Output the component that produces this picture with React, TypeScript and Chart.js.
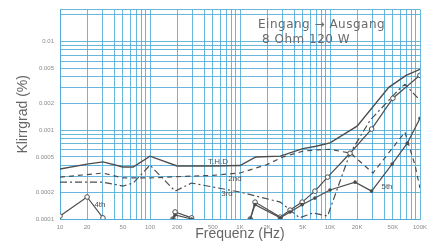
import React, { useEffect, useRef } from 'react';
import { Chart, registerables } from 'chart.js';

Chart.register(...registerables);

// ---- data (frequency in Hz, distortion in %) ----
const thdFreq = [10, 20, 30, 50, 65, 100, 200, 500, 1000, 1500, 2800, 5000, 7000, 10000, 20000, 45000, 70000, 100000];
const thdVals = [3.65e-4, 4.15e-4, 4.4e-4, 3.85e-4, 3.85e-4, 5.1e-4, 3.95e-4, 3.95e-4, 4.0e-4, 5.0e-4, 5.1e-4, 6.2e-4, 6.6e-4, 7.2e-4, 1.11e-3, 3.04e-3, 4.15e-3, 4.85e-3];

const secondFreq = [10, 30, 50, 100, 200, 500, 1000, 2000, 3000, 5000, 7000, 10000, 17000, 30000, 68000, 88000, 100000];
const secondVals = [2.96e-4, 3.29e-4, 2.9e-4, 2.9e-4, 3.0e-4, 3.1e-4, 3.3e-4, 4.1e-4, 5.0e-4, 5.8e-4, 6.0e-4, 6.1e-4, 5.5e-4, 3.29e-4, 9.5e-4, 4.04e-4, 2.23e-4];

const thirdFreq = [10, 30, 50, 65, 100, 190, 290, 1000, 2800, 4600, 6500, 9400, 16700, 28000, 60000, 68000, 100000];
const thirdVals = [2.6e-4, 2.6e-4, 2.35e-4, 2.54e-4, 4.04e-4, 2.06e-4, 2.54e-4, 2.01e-4, 1.55e-4, 1.03e-4, 1.17e-4, 1.08e-4, 5.5e-4, 1.3e-3, 2.96e-3, 3.29e-3, 2.17e-3];

const fourthFreq = [10, 20, 30, 100, 180, 190, 290, 700, 1300, 1470, 2800, 3600, 4900, 6800, 9400, 16700, 29000, 50000, 100000];
const fourthVals = [1.08e-4, 1.77e-4, 1.03e-4, null, 1.0e-4, 1.2e-4, 1.03e-4, null, 1.0e-4, 1.55e-4, 1.05e-4, 1.26e-4, 1.55e-4, 2.06e-4, 2.96e-4, 5.5e-4, 1.03e-3, 2.29e-3, 4.15e-3];

const fifthFreq = [180, 190, 290, 700, 1300, 1470, 2800, 3600, 4900, 6800, 10000, 19000, 29000, 49000, 72000, 100000];
const fifthVals = [1.0e-4, 1.11e-4, 1.0e-4, null, 1.0e-4, 1.45e-4, 1.03e-4, 1.2e-4, 1.45e-4, 1.72e-4, 2.12e-4, 2.6e-4, 2.06e-4, 4.15e-4, 7.1e-4, 1.36e-3];

// ---- tick labels ----
const xLabelValues = [10, 20, 50, 100, 200, 500, 1000, 2000, 5000, 10000, 20000, 50000, 100000];
const xLabelTexts = ['10', '20', '50', '100', '200', '500', '1K', '2K', '5K', '10K', '20K', '50K', '100K'];
const yLabelValues = [0.0001, 0.0002, 0.0005, 0.001, 0.002, 0.005, 0.01];
const yLabelTexts = ['0.0001', '0.0002', '0.0005', '0.001', '0.002', '0.005', '0.01'];

const Y_MIN = 0.0001;
const Y_MAX = 0.0228;

// ---- in-chart texts ----
const curveLabels = [
  { text: 'T.H.D', freq: 570, value: 4.37e-4 },
  { text: '2nd', freq: 880, value: 2.81e-4 },
  { text: '3rd', freq: 717, value: 1.91e-4 },
  { text: '4th', freq: 27.8, value: 1.44e-4 },
  { text: '5th', freq: 43000, value: 2.29e-4 },
];
const noteLines = [
  { text: 'Eingang → Ausgang', freq: 1585, value: 0.0155 },
  { text: '8 Ohm 120 W', freq: 1756, value: 0.0104 },
];

const toPoints = (fs: number[], vs: (number | null)[]) => fs.map((f, i) => ({ x: f, y: vs[i] }));

const xGrid: number[] = [];
[10, 100, 1000, 10000].forEach((d) => {
  for (let m = 1; m <= 9; m++) xGrid.push(d * m);
});
xGrid.push(100000);

const yGrid: number[] = [];
[0.0001, 0.001].forEach((d) => {
  for (let m = 1; m <= 9; m++) yGrid.push(d * m);
});
yGrid.push(0.01, 0.02, Y_MAX);

const findLabel = (v: number, vals: number[], texts: string[]) => {
  const i = vals.findIndex((lv) => Math.abs(v - lv) / lv < 1e-6);
  return i >= 0 ? texts[i] : '';
};

const FONT = 'Liberation Sans, Arial, Helvetica, sans-serif';
const NOTE_FONT = '"DejaVu Sans", Verdana, sans-serif';
const LINE = '#4d4d4d';
const GRID = 'rgba(80,170,215,0.85)';

const textPlugin = {
  id: 'chartTexts',
  afterDatasetsDraw(chart: any) {
    const { ctx, scales } = chart;
    const xs = scales.x;
    const ys = scales.y;
    ctx.save();
    ctx.fillStyle = '#505050';
    ctx.font = `8px ${FONT}`;
    ctx.textAlign = 'center';
    ctx.textBaseline = 'middle';
    curveLabels.forEach((l) => {
      ctx.fillText(l.text, xs.getPixelForValue(l.freq), ys.getPixelForValue(l.value));
    });
    ctx.fillStyle = '#6a6a6a';
    ctx.font = `12px ${NOTE_FONT}`;
    (ctx as any).letterSpacing = '0.5px';
    ctx.textAlign = 'left';
    noteLines.forEach((l) => {
      ctx.fillText(l.text, xs.getPixelForValue(l.freq), ys.getPixelForValue(l.value));
    });
    ctx.restore();
  },
};

export default function App() {
  const ref = useRef<HTMLCanvasElement | null>(null);

  useEffect(() => {
    document.body.style.margin = '0';
    const canvas = ref.current;
    if (!canvas) return;
    const chart = new Chart(canvas, {
      type: 'line',
      data: {
        datasets: [
          {
            label: '5th',
            data: toPoints(fifthFreq, fifthVals),
            borderColor: LINE,
            backgroundColor: LINE,
            borderWidth: 1.2,
            pointRadius: 1.2,
            pointHoverRadius: 1.2,
            spanGaps: false,
          },
          {
            label: '4th',
            data: toPoints(fourthFreq, fourthVals),
            borderColor: LINE,
            backgroundColor: '#ffffff',
            borderWidth: 1.2,
            pointRadius: 2.3,
            pointBorderWidth: 1,
            pointBorderColor: LINE,
            pointBackgroundColor: '#ffffff',
            spanGaps: false,
          },
          {
            label: '3rd',
            data: toPoints(thirdFreq, thirdVals),
            borderColor: LINE,
            borderWidth: 1.2,
            borderDash: [7, 3, 2, 3],
            pointRadius: 0,
          },
          {
            label: '2nd',
            data: toPoints(secondFreq, secondVals),
            borderColor: LINE,
            borderWidth: 1.2,
            borderDash: [5, 4],
            pointRadius: 0,
          },
          {
            label: 'T.H.D',
            data: toPoints(thdFreq, thdVals),
            borderColor: LINE,
            borderWidth: 1.4,
            pointRadius: 0,
          },
        ],
      },
      options: {
        responsive: false,
        animation: false,
        parsing: true,
        elements: { line: { tension: 0 } },
        layout: { padding: { top: 8, right: 22, left: 0, bottom: 0 } },
        plugins: {
          legend: { display: false },
          tooltip: { enabled: false },
        },
        scales: {
          x: {
            type: 'logarithmic',
            min: 10,
            max: 100000,
            afterBuildTicks: (s: any) => {
              s.ticks = xGrid.map((v) => ({ value: v }));
            },
            afterFit: (s: any) => {
              s.height = 22;
            },
            grid: { color: GRID, lineWidth: 1, drawTicks: false },
            border: { color: GRID, width: 1 },
            ticks: {
              autoSkip: false,
              maxRotation: 0,
              minRotation: 0,
              padding: 5,
              color: '#8a8a8a',
              font: { size: 6, family: FONT },
              callback: (v: any) => findLabel(Number(v), xLabelValues, xLabelTexts),
            },
            title: {
              display: true,
              text: 'Frequenz (Hz)',
              color: '#666',
              font: { size: 14, family: FONT, lineHeight: 1 },
              padding: { top: 0, bottom: 0 },
            },
          },
          y: {
            type: 'logarithmic',
            min: Y_MIN,
            max: Y_MAX,
            afterBuildTicks: (s: any) => {
              s.ticks = yGrid.map((v) => ({ value: v }));
            },
            afterFit: (s: any) => {
              s.width = 60;
            },
            grid: { color: GRID, lineWidth: 1, drawTicks: false },
            border: { color: GRID, width: 1 },
            ticks: {
              autoSkip: false,
              padding: 6,
              color: '#8a8a8a',
              font: { size: 6, family: FONT },
              callback: (v: any) => findLabel(Number(v), yLabelValues, yLabelTexts),
            },
            title: {
              display: true,
              text: 'Klirrgrad (%)',
              color: '#666',
              font: { size: 14, family: FONT, lineHeight: 1 },
              padding: { top: 16, bottom: 0 },
            },
          },
        },
      },
      plugins: [textPlugin],
    } as any);
    return () => chart.destroy();
  }, []);

  return <canvas ref={ref} width={442} height={241} style={{ display: 'block' }} />;
}
